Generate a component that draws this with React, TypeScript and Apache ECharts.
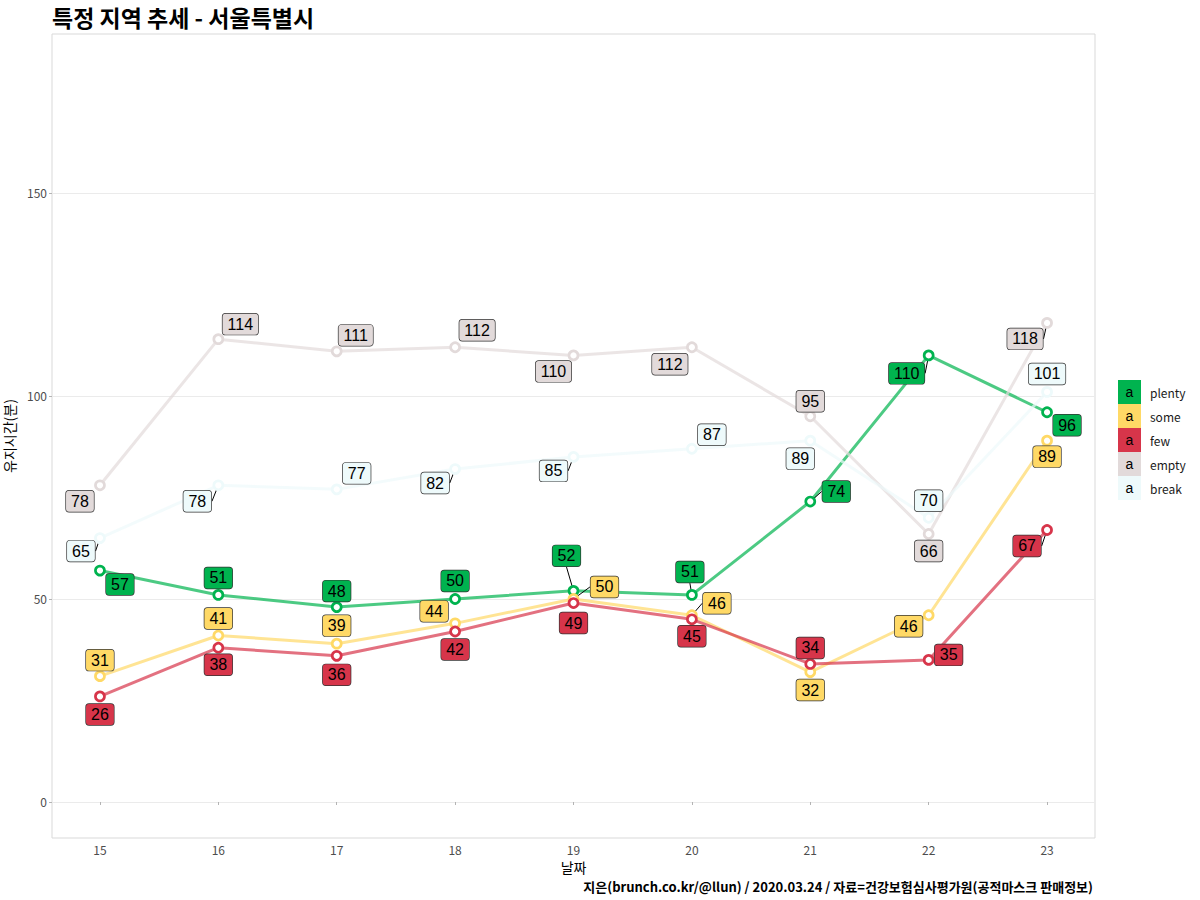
import { useEffect, useRef } from "react";
import * as echarts from "echarts";

const days = [15, 16, 17, 18, 19, 20, 21, 22, 23];
const plenty = [57, 51, 48, 50, 52, 51, 74, 110, 96];
const some = [31, 41, 39, 44, 50, 46, 32, 46, 89];
const few = [26, 38, 36, 42, 49, 45, 34, 35, 67];
const empty = [78, 114, 111, 112, 110, 112, 95, 66, 118];
const brk = [65, 78, 77, 82, 85, 87, 89, 70, 101];
const seriesNames = ["plenty", "some", "few", "empty", "break"];
const seriesValues = [plenty, some, few, empty, brk];
const seriesColors = ["#00B34F", "#FFD966", "#D7354A", "#E2DADA", "#EEFAFB"];
const yTicks = [0, 50, 100, 150];

// label nudges (layout only), per series per day [dx, dy]
const nudges: number[][][] = [
  [[20, 14], [0, -17], [0, -16], [0, -18], [-7, -35], [-2, -23], [26, -10], [-22, 18], [20, 13]],
  [[0, -16], [0, -17], [0, -18], [-21, -12], [31, -12], [25, -12], [0, 18], [-20, 11], [0, 16]],
  [[0, 18], [0, 17], [0, 19], [0, 18], [0, 20], [0, 17], [0, -16], [20, -5], [-20, 16]],
  [[-20, 16], [22, -15], [19, -16], [22, -17], [-20, 16], [-22, 17], [0, -15], [0, 17], [-22, 16]],
  [[-19, 13], [-21, 16], [20, -16], [-20, 14], [-20, 14], [20, -14], [-10, 18], [0, -17], [0, -18]],
];
const connectors: boolean[][] = [
  [false, false, false, false, true, true, true, true, false],
  [false, false, false, false, true, true, false, false, false],
  [false, false, false, false, false, false, false, false, true],
  [false, false, false, false, false, false, false, false, true],
  [true, true, false, true, true, false, false, false, false],
];

const FONT = "'Noto Sans CJK KR', 'Noto Sans', sans-serif";

export default function App() {
  const ref = useRef<HTMLDivElement>(null);
  useEffect(() => {
    document.body.style.margin = "0";
    const chart = echarts.init(ref.current!, null, { renderer: "svg" });
    const series = seriesNames.map((name, si) => ({
      name,
      type: "line",
      data: days.map((d, i) => ({
        value: [d, seriesValues[si][i]],
        labelLine: { show: connectors[si][i] },
      })),
      symbol: "circle",
      symbolSize: 9,
      showAllSymbol: true,
      lineStyle: { color: seriesColors[si], width: 3, opacity: 0.7 },
      itemStyle: { color: "#ffffff", borderColor: seriesColors[si], borderWidth: 2.7 },
      emphasis: { disabled: true },
      label: {
        show: true,
        position: "inside",
        fontSize: 16,
        fontFamily: "'Liberation Sans', Arial, sans-serif",
        color: "#000",
        backgroundColor: seriesColors[si],
        borderColor: "#333",
        borderWidth: 0.7,
        borderRadius: 3,
        padding: [3, 5, 2, 5],
        formatter: (p: any) => String(p.value[1]),
      },
      labelLine: { show: false, lineStyle: { color: "#000", width: 1 } },
      labelLayout: (p: any) => {
        const n = nudges[p.seriesIndex][p.dataIndex];
        return { dx: n[0], dy: n[1] };
      },
      z: 2,
    }));

    const legendItems: any[] = [];
    seriesNames.forEach((name, i) => {
      const y = 380 + i * 24;
      legendItems.push({
        type: "rect",
        shape: { x: 1118, y, width: 23, height: 24 },
        style: { fill: seriesColors[i] },
      });
      legendItems.push({
        type: "text",
        x: 1129.5,
        y: y + 12,
        style: { text: "a", fontSize: 14, fontFamily: "'Liberation Sans', Arial", fill: "#000", align: "center", verticalAlign: "middle" },
      });
      legendItems.push({
        type: "text",
        x: 1150,
        y: y + 12,
        style: { text: name, fontSize: 12, fontFamily: FONT, fill: "#1a1a1a", align: "left", verticalAlign: "middle" },
      });
    });

    chart.setOption({
      animation: false,
      backgroundColor: "#ffffff",
      title: {
        text: "특정 지역 추세 - 서울특별시",
        left: 47,
        top: 0,
        textStyle: { fontSize: 23, fontWeight: "bold", color: "#000", fontFamily: FONT },
      },
      grid: {
        left: 52,
        right: 105,
        top: 34,
        bottom: 62,
        show: true,
        borderColor: "#D9D9D9",
        borderWidth: 1,
        containLabel: false,
        outerBoundsMode: "none",
      },
      xAxis: {
        type: "value",
        min: 14.595,
        max: 23.405,
        splitNumber: 9,
        name: "날짜",
        nameLocation: "middle",
        nameGap: 19,
        nameTextStyle: { fontSize: 14, color: "#000", fontFamily: FONT },
        axisLine: { show: false },
        axisTick: { show: true, length: 3, lineStyle: { color: "#B3B3B3" }, customValues: days },
        axisLabel: { color: "#4D4D4D", fontSize: 12, margin: 5, fontFamily: FONT, customValues: days },
        splitLine: { show: false },
      },
      yAxis: {
        type: "value",
        min: -8.87,
        max: 189.16,
        splitNumber: 4,
        name: "유지시간(분)",
        nameLocation: "middle",
        nameGap: 34,
        nameTextStyle: { fontSize: 14, color: "#000", fontFamily: FONT },
        axisLine: { show: false },
        axisTick: { show: true, length: 3, lineStyle: { color: "#B3B3B3" }, customValues: yTicks },
        axisLabel: {
          color: "#4D4D4D",
          fontSize: 12,
          margin: 5,
          fontFamily: FONT,
          customValues: yTicks,
          formatter: (v: number) => (v % 50 === 0 ? String(v) : ""),
        },
        splitLine: { show: true, lineStyle: { color: "#EBEBEB", width: 1 } },
      },
      graphic: [
        ...legendItems,
        {
          type: "text",
          x: 1093,
          y: 886,
          style: {
            text: "지은(brunch.co.kr/@llun) / 2020.03.24 / 자료=건강보험심사평가원(공적마스크 판매정보)",
            fontSize: 13,
            fontWeight: "bold",
            fontFamily: FONT,
            fill: "#000",
            align: "right",
            verticalAlign: "middle",
          },
        },
      ],
      series,
    });
    return () => chart.dispose();
  }, []);
  return <div ref={ref} style={{ width: 1200, height: 900 }} />;
}
